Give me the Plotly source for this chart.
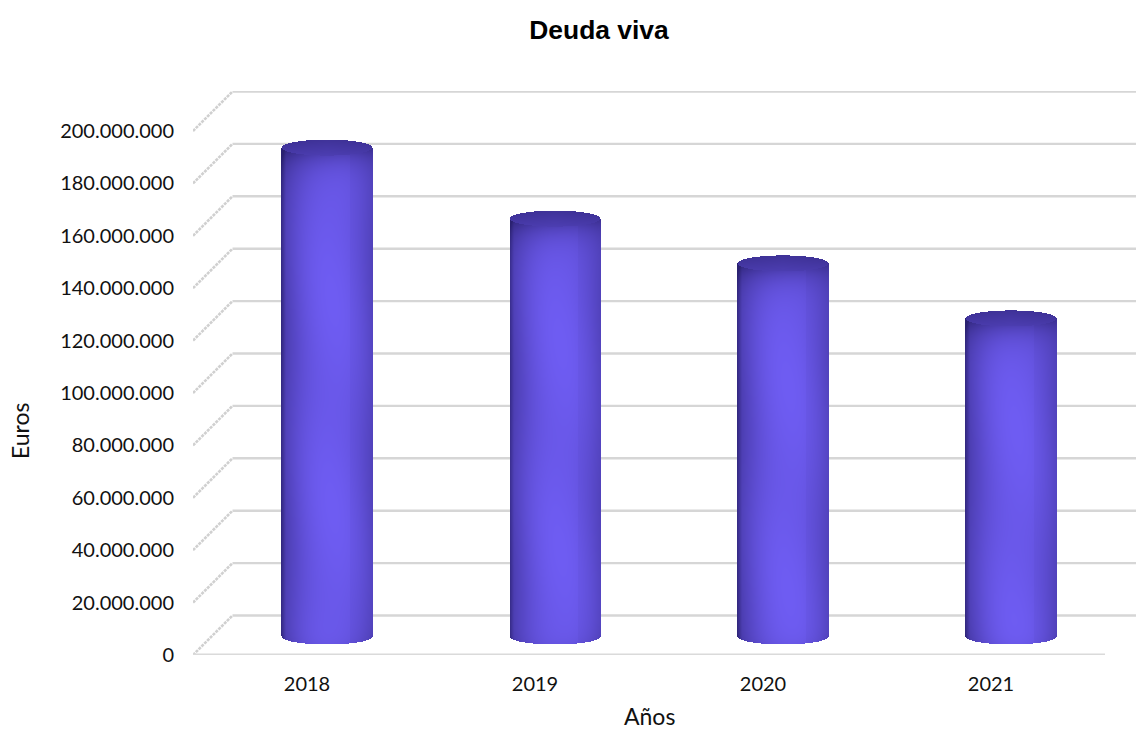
import numpy as np
import plotly.graph_objects as go

years = ["2018", "2019", "2020", "2021"]
deuda = [186.6e6, 159.5e6, 142.4e6, 121.4e6]
y_ticks = list(range(0, 200000001, 20000000))
y_tick_text = [f"{v:,}".replace(",", ".") for v in y_ticks]

W, H = 1136, 731
L, FR, FT, B = 193, 1105, 131, 655   # front frame of the 3D box
PT = 91                              # top of the drawing area (back wall)
px_x = 4 / (FR - L)
px_y = 200e6 / (B - FT)
dep_x = 39.5 * px_x
dep_y = 39.5 * px_y
mid_x = 20 * px_x
mid_y = 19 * px_y
rad_x = 45.5 * px_x
rad_y = 8 * px_y
x_lo, x_hi = -0.5, -0.5 + (W - L) * px_x
y_hi = (B - PT) * px_y

GRID = "#d6d6d6"
fig = go.Figure()
shapes = []


def seg(x0, y0, x1, y1, color=GRID, width=2.4, dash="solid"):
    shapes.append(dict(type="line", xref="x", yref="y", x0=x0, y0=y0, x1=x1, y1=y1,
                       layer="below", line=dict(color=color, width=width, dash=dash)))


for v in y_ticks:
    seg(x_lo, v, x_lo + dep_x, v + dep_y, "#d0d0d0", 2.6, "3px,1px")
    seg(x_lo + dep_x, v + dep_y, x_hi, v + dep_y)
seg(x_lo, 0, 3.5, 0, "#dadada", 3)
for k in range(5):
    seg(k - 0.5, 0, k - 0.5, -6 * px_y, "#cfcfcf", 1)

scale = [[0.0, "#2a2170"], [0.35, "#41349c"], [0.7, "#5848c8"], [1.0, "#6e5cf2"]]
for i, val in enumerate(deuda):
    cx = i + mid_x
    base = mid_y
    top = val + mid_y
    xs = cx + np.arange(-rad_x, rad_x + px_x, px_x)
    ys = np.arange(base - rad_y - px_y, top + rad_y + px_y, px_y)
    U, V = np.meshgrid((xs - cx) / rad_x, ys)
    edge = np.sqrt(np.clip(1 - U**2, 0, 1))
    s = 1 - 0.40 * np.abs(U - 0.12) ** 2.2
    s = s - 0.30 * np.clip((np.abs(U) - 0.9) / 0.1, 0, 1) * (U < 0)
    s = s - 0.04 * (U > 0.5)
    below = (top - rad_y * edge - V) / px_y
    s = s - 0.38 * np.exp(-np.clip(below, 0, None) / 14)
    above = (V - (base - rad_y * edge)) / px_y
    s = s - 0.06 * np.exp(-np.clip(above, 0, None) / 8)
    s = s - 0.03 * (1 + np.sin(V / px_y / 33 + 1.3 * i + 2 * U))
    cap = ((V - top) / rad_y) ** 2 + U**2 <= 1
    cap_s = 0.42 - 0.10 * (V - top) / rad_y - 0.05 * np.abs(U)
    s = np.where(cap, cap_s, s)
    inside = (V <= top) & (V >= base - rad_y * edge) & (np.abs(U) <= 1)
    s = np.where(inside | cap, s, np.nan)
    fig.add_trace(go.Heatmap(x=xs, y=ys, z=s, zmin=0, zmax=1, colorscale=scale, showscale=False,
                             hoverinfo="skip", zsmooth=False))

tick_font = dict(family="Lato", size=20, color="#111111")
title_font = dict(family="Lato", size=23, color="#111111")
fig.update_layout(
    width=W, height=H, autosize=False, paper_bgcolor="white", plot_bgcolor="white", showlegend=False,
    margin=dict(l=L, r=0, t=PT, b=H - B, pad=0),
    shapes=shapes,
    title=dict(text="<b>Deuda viva</b>", x=599 / W, xanchor="center", xref="container", y=1 - 30 / H, yanchor="middle",
               font=dict(family="Liberation Sans", size=26.4, color="black")),
    font=tick_font,
    xaxis=dict(range=[x_lo, x_hi], tickmode="array", tickvals=[0, 1, 2, 3], ticktext=years, showgrid=False,
               zeroline=False, ticks="", automargin=False, ticklabelstandoff=15, tickfont=tick_font),
    yaxis=dict(range=[0, y_hi], tickmode="array", tickvals=y_ticks, ticktext=y_tick_text, showgrid=False,
               zeroline=False, ticks="", automargin=False, ticklabelstandoff=18, tickfont=tick_font),
    annotations=[
        dict(text="Años", xref="paper", yref="paper", x=(649 - L) / (W - L), y=-(716 - B) / (B - PT),
             showarrow=False, xanchor="center", yanchor="middle", font=title_font),
        dict(text="Euros", xref="paper", yref="paper", x=-(L - 20) / (W - L), y=(B - 431) / (B - PT),
             showarrow=False, textangle=-90, xanchor="center", yanchor="middle", font=title_font),
    ],
)
fig.write_html("out.html", config={"displayModeBar": False},
               post_script="document.body.style.margin='0';document.body.style.overflow='hidden';")
